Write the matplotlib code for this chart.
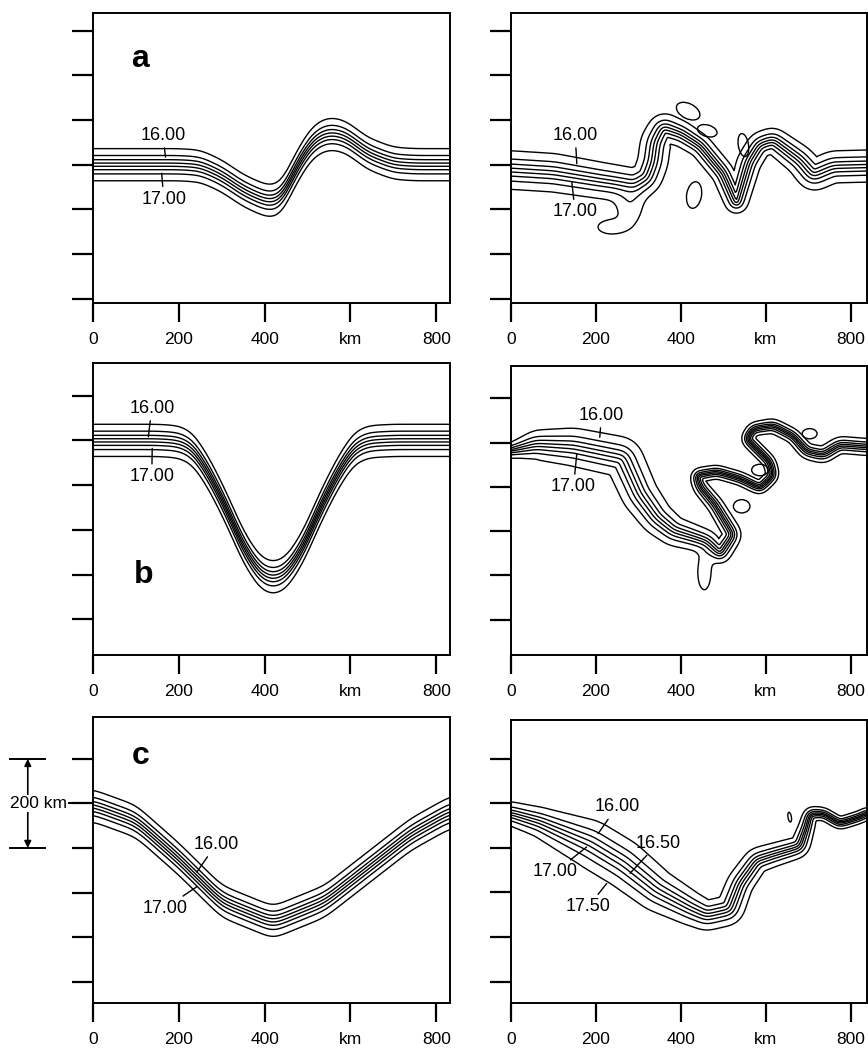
import numpy as np
import matplotlib
matplotlib.use("Agg")
import matplotlib.pyplot as plt
from matplotlib.path import Path
from matplotlib.patches import Ellipse

plt.rcParams['font.family'] = ['Liberation Sans', 'DejaVu Sans']

# isotherms drawn in every panel (deg C)
levels = np.arange(15.75, 17.51, 0.25)
x_ticks = [0, 200, 400, 600, 800]
x_tick_labels = ['0', '200', '400', 'km', '800']
y_ticks_rows = [[0, 100, 200, 300, 400, 500, 600],
                [0, 100, 200, 300, 400, 500],
                [0, 100, 200, 300, 400, 500]]
panel_letters = ['a', 'b', 'c']

# ---- left column: initial front position y(x), km ----
a_left_x = [0, 200, 250, 300, 350, 400, 420, 440, 475, 510, 540, 560, 590, 640, 700, 750, 835]
a_left_y = [300, 300, 297, 275, 242, 220, 217, 225, 296, 350, 368, 370, 362, 325, 303, 300, 300]

b_left_x = [0, 150, 200, 233, 272, 311, 350, 389, 420, 451, 490, 529, 568, 607, 640, 700, 835]
b_left_y = [400, 400, 397, 382, 323, 248, 162, 103, 90, 103, 162, 248, 323, 382, 397, 400, 400]

c_left_x = [0, 100, 200, 300, 420, 540, 640, 740, 835]
c_left_y = [395, 360, 275, 180, 133, 180, 255, 330, 381]

# ---- right column: evolved front axis (x, y) along the front, km, and its half width ----
a_right_x = [0, 100, 209, 290, 320, 334, 340, 358, 400, 445, 499, 531, 560, 585, 617, 680, 711, 758, 838]
a_right_y = [288, 282, 265, 254, 270, 306, 350, 384, 370, 343, 281, 212, 306, 345, 355, 310, 276, 295, 297]
a_right_w = [36, 36, 34, 32, 30, 30, 30, 28, 24, 22, 22, 22, 24, 24, 24, 28, 30, 30, 30]

b_right_x = [0, 60, 147, 264, 303, 343, 382, 460, 492, 523, 480, 445, 437, 484, 539, 586,
             617, 609, 578, 555, 570, 617, 664, 696, 735, 774, 837]
b_right_y = [382, 395, 390, 367, 283, 230, 200, 177, 147, 192, 260, 300, 326, 334, 319, 297,
             326, 356, 386, 408, 431, 438, 415, 380, 372, 395, 390]
b_right_w = [14, 28, 36, 38, 36, 32, 28, 22, 20, 18, 16, 15, 14, 13, 13, 13,
             13, 13, 13, 13, 13, 14, 14, 15, 16, 16, 16]

c_right_x = [0, 68, 186, 264, 343, 421, 460, 515, 539, 578, 617, 680, 696, 704, 735, 774, 821, 837]
c_right_y = [377, 358, 310, 265, 205, 165, 148, 160, 220, 272, 284, 302, 347, 377, 377, 355, 369, 377]
c_right_w = [22, 28, 45, 45, 40, 32, 28, 28, 26, 24, 22, 20, 16, 14, 12, 12, 12, 12]

# filaments / tongues of the outer isotherm: x, y, sx, sy, amplitude
a_right_blobs = [(280, 200, 30, 40, -0.3), (235, 160, 40, 20, -0.3)]
b_right_blobs = [(455, 105, 18, 45, -0.35)]
c_right_blobs = []

# detached eddies: x, y, width, height, angle
a_right_eddies = [(417, 420, 59, 34, -25), (462, 376, 47, 26, -15),
                  (547, 344, 24, 52, 10), (431, 232, 35, 60, -10)]
b_right_eddies = [(586, 338, 39, 26, 0), (543, 256, 39, 30, 0), (703, 420, 35, 23, 0)]
c_right_eddies = [(656, 369, 8, 22, 10)]

# contour labels: text, text position, point on the isotherm
a_left_labels = [('16.00', (163, 366), (169, 317)), ('17.00', (165, 223), (160, 281))]
a_right_labels = [('16.00', (151, 366), (155, 302)), ('17.00', (151, 194), (143, 262))]
b_left_labels = [('16.00', (137, 472), (129, 408)), ('17.00', (137, 319), (138, 382))]
b_right_labels = [('16.00', (213, 462), (209, 412)), ('17.00', (147, 300), (155, 375))]
c_left_labels = [('16.00', (287, 308), (242, 246)), ('17.00', (168, 165), (242, 213))]
c_right_labels = [('16.00', (249, 392), (205, 332)), ('16.50', (347, 311), (280, 243)),
                  ('17.00', (104, 246), (178, 302)), ('17.50', (182, 168), (225, 220))]

T_MID = 16.625
T_AMP = 1.05


def gauss_smooth(arr, sig):
    n = int(3 * sig)
    k = np.exp(-0.5 * (np.arange(-n, n + 1) / sig) ** 2)
    k /= k.sum()
    return np.convolve(np.pad(arr, n, mode='edge'), k, mode='valid')


def field_from_graph(xs, ys, X, Y, w=30.0):
    # front as y = yc(x); temperature rises to the south
    yc = gauss_smooth(np.interp(X[0], xs, ys), 5)
    return T_MID + T_AMP * np.tanh((yc[None, :] - Y) / w)


def field_from_curve(xs, ys, ws, X, Y, step=2.0):
    xs = np.r_[xs[0] - 150, xs, xs[-1] + 150].astype(float)
    ys = np.r_[ys[0], ys, ys[-1]].astype(float)
    ws = np.r_[ws[0], ws, ws[-1]].astype(float)
    s = np.r_[0, np.cumsum(np.hypot(np.diff(xs), np.diff(ys)))]
    ss = np.arange(0, s[-1] + step, step)
    cx = gauss_smooth(np.interp(ss, s, xs), 4)
    cy = gauss_smooth(np.interp(ss, s, ys), 4)
    cw = gauss_smooth(np.interp(ss, s, ws), 6)

    pts = np.column_stack([X.ravel(), Y.ravel()])
    dmin = np.full(len(pts), np.inf)
    idx = np.zeros(len(pts), int)
    for i in range(0, len(cx), 64):
        d = np.hypot(pts[:, :1] - cx[None, i:i + 64], pts[:, 1:] - cy[None, i:i + 64])
        j = d.argmin(1)
        dm = d[np.arange(len(pts)), j]
        better = dm < dmin
        dmin[better] = dm[better]
        idx[better] = j[better] + i

    poly = np.vstack([np.column_stack([cx, cy]), [[cx[-1], -5000], [cx[0], -5000]]])
    south = Path(poly).contains_points(pts)
    sd = np.where(south, dmin, -dmin)
    T = T_MID + T_AMP * np.tanh(sd / cw[idx])
    return T.reshape(X.shape)


fig = plt.figure(figsize=(8.68, 10.48), dpi=100)
W, H = 868.0, 1048.0

# axes boxes in pixels: (left, top, right, bottom)
boxes = [[(93, 13, 450, 303), (511, 13, 867, 303)],
         [(93, 363, 450, 655), (511, 366, 867, 655)],
         [(93, 717, 450, 1003), (511, 720, 867, 1003)]]
ylims = [(-10, 640), (-80, 573), (-48, 594)]
xlims = [832, 838]
letter_pos = [(110, 538), (117, 99), (110, 507)]

left_fronts = [(a_left_x, a_left_y), (b_left_x, b_left_y), (c_left_x, c_left_y)]
right_fronts = [(a_right_x, a_right_y, a_right_w, a_right_blobs, a_right_eddies),
                (b_right_x, b_right_y, b_right_w, b_right_blobs, b_right_eddies),
                (c_right_x, c_right_y, c_right_w, c_right_blobs, c_right_eddies)]
labels = [[a_left_labels, a_right_labels], [b_left_labels, b_right_labels],
          [c_left_labels, c_right_labels]]

axes = []
for r in range(3):
    for c in range(2):
        x0, y0, x1, y1 = boxes[r][c]
        ax = fig.add_axes([x0 / W, 1 - y1 / H, (x1 - x0) / W, (y1 - y0) / H])
        ylo, yhi = ylims[r]
        if c == 1 and r == 2:
            yhi = yhi - 7
        xg = np.arange(-6, xlims[c] + 8, 3.0)
        yg = np.arange(ylo - 6, yhi + 8, 3.0)
        X, Y = np.meshgrid(xg, yg)

        if c == 0:
            T = field_from_graph(*left_fronts[r], X, Y)
            eddies = []
        else:
            fx, fy, fw, blobs, eddies = right_fronts[r]
            T = field_from_curve(fx, fy, fw, X, Y)
            for bx, by, sx, sy, amp in blobs:
                T += amp * np.exp(-((X - bx) / sx) ** 2 - ((Y - by) / sy) ** 2)

        ax.contour(X, Y, T, levels=levels, colors='k', linewidths=1.0)
        for ex, ey, ew, eh, ea in eddies:
            ax.add_patch(Ellipse((ex, ey), ew, eh, angle=ea, fill=False, ec='k', lw=1.0))

        for txt, tpos, ppos in labels[r][c]:
            ax.annotate(txt, xy=ppos, xytext=tpos, ha='center', va='center', fontsize=13,
                        arrowprops=dict(arrowstyle='-', color='k', lw=1.0,
                                        shrinkA=1, shrinkB=0))

        if c == 0:
            ax.text(*letter_pos[r], panel_letters[r], fontsize=23, fontweight='bold',
                    ha='center', va='center')

        ax.set_xlim(0, xlims[c])
        ax.set_ylim(ylo, yhi)
        ax.set_xticks(x_ticks)
        ax.set_xticklabels(x_tick_labels)
        ax.set_yticks(y_ticks_rows[r])
        ax.tick_params(axis='x', direction='out', length=14, width=1.6, pad=7, labelsize=12.5)
        ax.tick_params(axis='y', direction='out', length=15, width=1.6, labelleft=False)
        for sp in ax.spines.values():
            sp.set_linewidth(1.4)
        axes.append(ax)

# 200 km scale bar beside panel c
axc = axes[4]
bar_x = -152
for yb in (300, 500):
    axc.plot([-193, -112], [yb, yb], color='k', lw=1.4, clip_on=False)
axc.annotate('', xy=(bar_x, 500), xytext=(bar_x, 420), annotation_clip=False,
             arrowprops=dict(arrowstyle='-|>', color='k', lw=1.2, mutation_scale=10,
                             shrinkA=0, shrinkB=0))
axc.annotate('', xy=(bar_x, 300), xytext=(bar_x, 380), annotation_clip=False,
             arrowprops=dict(arrowstyle='-|>', color='k', lw=1.2, mutation_scale=10,
                             shrinkA=0, shrinkB=0))
axc.text(-126, 400, '200 km', fontsize=12.5, ha='center', va='center', clip_on=False,
         bbox=dict(fc='white', ec='none', pad=0.5))
axc.plot([-55, 0], [400, 400], color='k', lw=1.4, clip_on=False)

fig.savefig('out.png', dpi=100)
